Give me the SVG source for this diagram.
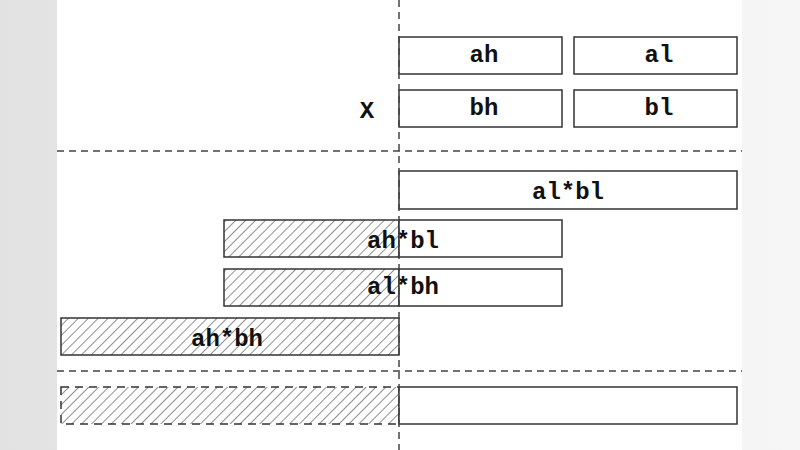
<svg xmlns="http://www.w3.org/2000/svg" width="800" height="450" viewBox="0 0 800 450">
<defs>
<pattern id="hatch" width="7" height="7" patternUnits="userSpaceOnUse" patternTransform="rotate(45)">
<line x1="0" y1="0" x2="0" y2="7" stroke="#333" stroke-width="1.1"/>
</pattern>
<linearGradient id="lg" x1="0" x2="1"><stop offset="0" stop-color="#e2e2e2"/><stop offset="1" stop-color="#f6f6f6"/></linearGradient>
</defs>
<style>
.b{fill:#fff;stroke:#333;stroke-width:1.5}
.h{fill:url(#hatch);stroke:#333;stroke-width:1.5}
.hd{fill:url(#hatch);stroke:#333;stroke-width:1.5;stroke-dasharray:8 6}
.d{stroke:#444;stroke-width:1.5;stroke-dasharray:7 5;fill:none}
text{font-family:"Liberation Mono","Courier New",monospace;font-weight:bold;font-size:24px;fill:#111;text-anchor:middle;dominant-baseline:central}
</style>
<rect width="800" height="450" fill="url(#lg)"/>
<rect x="57" y="0" width="685" height="450" fill="#fff"/>
<g id="ah"><rect class="b" x="399" y="37" width="163" height="37"/><text x="484" y="55">ah</text></g>
<g id="al"><rect class="b" x="574" y="37" width="163" height="37"/><text x="659" y="55">al</text></g>
<g id="bh"><rect class="b" x="399" y="90" width="163" height="37"/><text x="484" y="108">bh</text></g>
<g id="bl"><rect class="b" x="574" y="90" width="163" height="37"/><text x="659" y="108">bl</text></g>
<g id="x"><text x="367" y="111">X</text></g>
<g id="albl"><rect class="b" x="399" y="171" width="338" height="38"/><text x="568" y="192">al*bl</text></g>
<g id="ahbl"><rect class="h" x="224" y="220" width="175" height="37"/><rect class="b" x="399" y="220" width="163" height="37"/><text x="403" y="241">ah*bl</text></g>
<g id="albh"><rect class="h" x="224" y="269" width="175" height="37"/><rect class="b" x="399" y="269" width="163" height="37"/><text x="403" y="287">al*bh</text></g>
<g id="ahbh"><rect class="h" x="61" y="318" width="338" height="37"/><text x="227" y="339">ah*bh</text></g>
<g id="result"><rect class="hd" x="61" y="387" width="338" height="37"/><rect class="b" x="399" y="387" width="338" height="37"/></g>
<g id="connectors">
<line class="d" x1="57" y1="151" x2="742" y2="151"/>
<line class="d" x1="57" y1="371" x2="742" y2="371"/>
<line class="d" x1="399" y1="0" x2="399" y2="450"/>
</g>
</svg>
